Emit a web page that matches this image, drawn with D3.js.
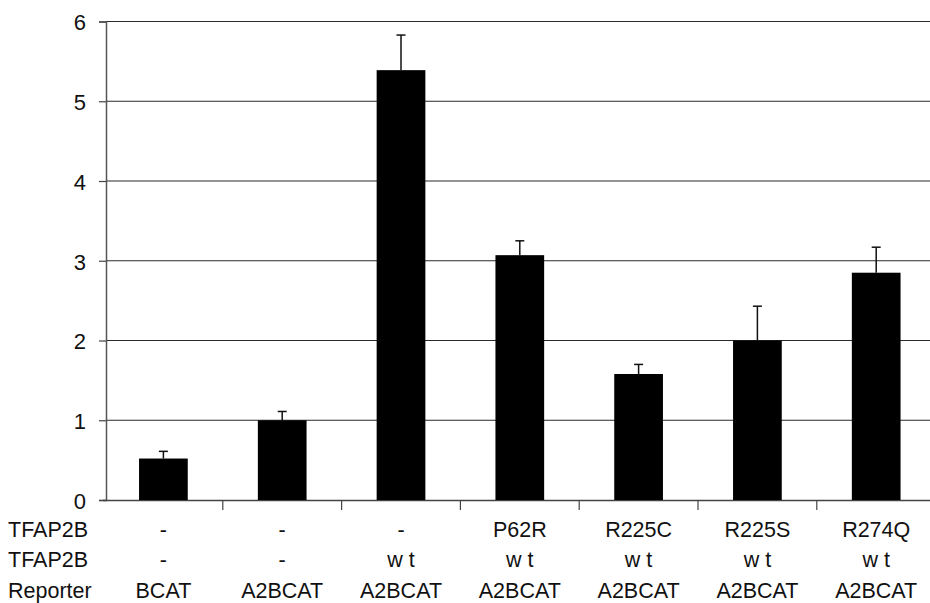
<!DOCTYPE html>
<html>
<head>
<meta charset="utf-8">
<script src="https://cdn.jsdelivr.net/npm/d3@7"></script>
<style>
  body { margin: 0; background: #fff; }
  text { font-family: "Liberation Sans", Arial, sans-serif; fill: #111; }
</style>
</head>
<body>
<div id="chart"></div>
<script>
// chart data
const categories = ["c1", "c2", "c3", "c4", "c5", "c6", "c7"];
const values = [0.52, 1.0, 5.39, 3.07, 1.58, 2.0, 2.85];
const errors = [0.09, 0.11, 0.44, 0.18, 0.12, 0.43, 0.32];
const rowNames = ["TFAP2B", "TFAP2B", "Reporter"];
const row1 = ["-", "-", "-", "P62R", "R225C", "R225S", "R274Q"];
const row2 = ["-", "-", "w t", "w t", "w t", "w t", "w t"];
const row3 = ["BCAT", "A2BCAT", "A2BCAT", "A2BCAT", "A2BCAT", "A2BCAT", "A2BCAT"];
const yTicks = [0, 1, 2, 3, 4, 5, 6];

const svgWidth = 930, svgHeight = 603;

const svg = d3.select("#chart")
  .append("svg")
  .attr("width", svgWidth)
  .attr("height", svgHeight);

// scales
const x = d3.scaleBand()
  .domain(categories)
  .range([104, 104 + 7 * 118.8])
  .padding(0);

const y = d3.scaleLinear()
  .domain([0, 6])
  .range([500, 21.5]);

const barW = x.bandwidth() * 0.41;
const cx = d => x(d) + x.bandwidth() / 2;

// gridlines
svg.append("g")
  .selectAll("line")
  .data(yTicks.filter(t => t > 0))
  .enter()
  .append("line")
  .attr("x1", 106)
  .attr("x2", svgWidth)
  .attr("y1", d => y(d))
  .attr("y2", d => y(d))
  .attr("stroke", "#2a2a2a")
  .attr("stroke-width", 1.2);

// y axis
const yAxis = svg.append("g")
  .attr("transform", "translate(106,0)")
  .call(d3.axisLeft(y).tickValues(yTicks).tickFormat(d3.format("d")).tickSize(7).tickPadding(13));
yAxis.select(".domain").attr("stroke", "#555").attr("stroke-width", 1.5);
yAxis.selectAll(".tick line").attr("stroke", "#444").attr("stroke-width", 1.2);
yAxis.selectAll(".tick text")
  .attr("font-size", 22)
  .attr("dy", "0.38em")
  .attr("font-family", "Liberation Sans, Arial, sans-serif")
  .style("fill", "#111");

// x axis line and boundary ticks
svg.append("line")
  .attr("x1", 103).attr("x2", svgWidth)
  .attr("y1", y(0) + 0.5).attr("y2", y(0) + 0.5)
  .attr("stroke", "#444").attr("stroke-width", 1.4);

svg.append("g")
  .selectAll("line")
  .data(categories.slice(1))
  .enter()
  .append("line")
  .attr("x1", d => x(d))
  .attr("x2", d => x(d))
  .attr("y1", y(0))
  .attr("y2", y(0) + 10)
  .attr("stroke", "#444")
  .attr("stroke-width", 1.2);

// bars
svg.append("g")
  .selectAll("rect")
  .data(categories)
  .enter()
  .append("rect")
  .attr("x", d => cx(d) - barW / 2)
  .attr("width", barW)
  .attr("y", (d, i) => y(values[i]))
  .attr("height", (d, i) => y(0) - y(values[i]))
  .attr("fill", "#000");

// error bars (upper only)
const err = svg.append("g").attr("stroke", "#111").attr("stroke-width", 1.5);
err.selectAll(".stem")
  .data(categories)
  .enter()
  .append("line")
  .attr("class", "stem")
  .attr("x1", d => cx(d))
  .attr("x2", d => cx(d))
  .attr("y1", (d, i) => y(values[i]))
  .attr("y2", (d, i) => y(values[i] + errors[i]));
err.selectAll(".cap")
  .data(categories)
  .enter()
  .append("line")
  .attr("class", "cap")
  .attr("x1", d => cx(d) - 4.5)
  .attr("x2", d => cx(d) + 4.5)
  .attr("y1", (d, i) => y(values[i] + errors[i]))
  .attr("y2", (d, i) => y(values[i] + errors[i]));

// category table below axis
const rows = [row1, row2, row3];
const rowY = [537, 567, 598];

rows.forEach(function(row, r) {
  svg.append("text")
    .attr("x", 8)
    .attr("y", rowY[r])
    .attr("font-size", 21.5)
    .text(rowNames[r]);

  svg.append("g")
    .selectAll("text")
    .data(categories)
    .enter()
    .append("text")
    .attr("x", d => cx(d))
    .attr("y", rowY[r])
    .attr("text-anchor", "middle")
    .attr("font-size", 21.5)
    .text((d, i) => row[i]);
});
</script>
</body>
</html>
